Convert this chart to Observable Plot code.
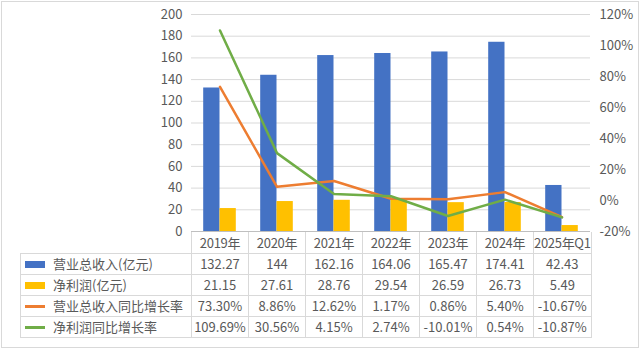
<!DOCTYPE html>
<html><head><meta charset="utf-8">
<script src="https://cdn.jsdelivr.net/npm/d3@7"></script>
<script src="https://cdn.jsdelivr.net/npm/@observablehq/plot@0.6"></script>
<style>
body{margin:0;background:#fff;}
#chart{position:relative;width:640px;height:351px;font-family:"Noto Sans CJK SC","Noto Sans",sans-serif;color:#595959;overflow:hidden;}
#frame{position:absolute;left:1px;top:1px;width:636px;height:345px;border:1px solid #d9d9d9;}
#plot{position:absolute;left:0;top:0;}
table{position:absolute;left:20px;top:232px;border-collapse:collapse;font-size:13px;table-layout:fixed;color:#595959;}
td{border:1px solid #d9d9d9;text-align:center;padding:0;height:20px;white-space:nowrap;line-height:20px;}
tr.head td{border-top:none;height:21px;letter-spacing:-0.3px;}
tr.head td.blank{border:none;}
td.name{text-align:left;padding-left:4px;}
.key{display:inline-block;width:20px;vertical-align:middle;margin-right:8px;position:relative;top:-1px;}
</style></head>
<body>
<div id="chart"><div id="frame"></div><div id="plot"></div><table id="tbl"></table></div>
<script>
const categories = ["2019年","2020年","2021年","2022年","2023年","2024年","2025年Q1"];
const revenue = [132.27,144,162.16,164.06,165.47,174.41,42.43];
const profit = [21.15,27.61,28.76,29.54,26.59,26.73,5.49];
const revenueGrowth = [73.30,8.86,12.62,1.17,0.86,5.40,-10.67];
const profitGrowth = [109.69,30.56,4.15,2.74,-10.01,0.54,-10.87];
const revenueText = ["132.27","144","162.16","164.06","165.47","174.41","42.43"];
const profitText = ["21.15","27.61","28.76","29.54","26.59","26.73","5.49"];
const revenueGrowthText = ["73.30%","8.86%","12.62%","1.17%","0.86%","5.40%","-10.67%"];
const profitGrowthText = ["109.69%","30.56%","4.15%","2.74%","-10.01%","0.54%","-10.87%"];
const leftTicks = [0,20,40,60,80,100,120,140,160,180,200];
const rightTicks = [-20,0,20,40,60,80,100,120];
const seriesNames = ["营业总收入(亿元)","净利润(亿元)","营业总收入同比增长率","净利润同比增长率"];
const colors = ["#4472C4","#FFC000","#ED7D31","#70AD47"];

const leftMin = 0, leftMax = 200, pctMin = -20, pctMax = 120;
const toLeft = p => (p - pctMin) / (pctMax - pctMin) * (leftMax - leftMin) + leftMin;
const fromLeft = v => (v - leftMin) / (leftMax - leftMin) * (pctMax - pctMin) + pctMin;

const rows = categories.map((c, i) => ({
  c, revenue: revenue[i], profit: profit[i],
  rg: toLeft(revenueGrowth[i]), pg: toLeft(profitGrowth[i])
}));

const font = '"Noto Sans CJK SC","Noto Sans",sans-serif';
const chart = Plot.plot({
  width: 640, height: 240,
  marginTop: 14, marginBottom: 9, marginLeft: 191, marginRight: 50,
  style: {fontSize: "13px", fontFamily: font, color: "#595959", background: "transparent", overflow: "visible"},
  x: {type: "band", domain: categories, padding: 0, axis: null},
  y: {domain: [leftMin, leftMax], axis: null},
  marks: [
    Plot.ruleY(leftTicks.filter(d => d > 0), {stroke: "#d9d9d9", strokeWidth: 1}),
    Plot.barY(rows, {x: "c", y: "revenue", fill: colors[0], insetLeft: 12.2, insetRight: 28.5}),
    Plot.barY(rows, {x: "c", y: "profit", fill: colors[1], insetLeft: 28.5, insetRight: 12.2}),
    Plot.ruleY([0], {stroke: "#bfbfbf", strokeWidth: 1}),
    Plot.line(rows, {x: "c", y: "rg", stroke: colors[2], strokeWidth: 2.5}),
    Plot.line(rows, {x: "c", y: "pg", stroke: colors[3], strokeWidth: 2.5}),
    Plot.axisY(leftTicks, {anchor: "left", tickSize: 0, tickPadding: 9, fill: "#595959"}),
    Plot.axisY(rightTicks.map(toLeft), {anchor: "right", tickSize: 0, tickPadding: 9, fill: "#595959",
      tickFormat: v => Math.round(fromLeft(v)) + "%"})
  ]
});
document.getElementById("plot").appendChild(chart);

// data table
const tbl = document.getElementById("tbl");
const colgroup = document.createElement("colgroup");
colgroup.innerHTML = `<col style="width:171px">` + categories.map(() => `<col style="width:57px">`).join("");
tbl.appendChild(colgroup);
const head = document.createElement("tr");
head.className = "head";
head.innerHTML = `<td class="blank"></td>` + categories.map(c => `<td>${c}</td>`).join("");
tbl.appendChild(head);
const texts = [revenueText, profitText, revenueGrowthText, profitGrowthText];
seriesNames.forEach((name, i) => {
  const tr = document.createElement("tr");
  const keyH = i < 2 ? 7 : 2.5;
  tr.innerHTML = `<td class="name"><span class="key" style="height:${keyH}px;background:${colors[i]}"></span>${name}</td>` +
    texts[i].map(t => `<td>${t}</td>`).join("");
  tbl.appendChild(tr);
});
</script>
</body></html>
